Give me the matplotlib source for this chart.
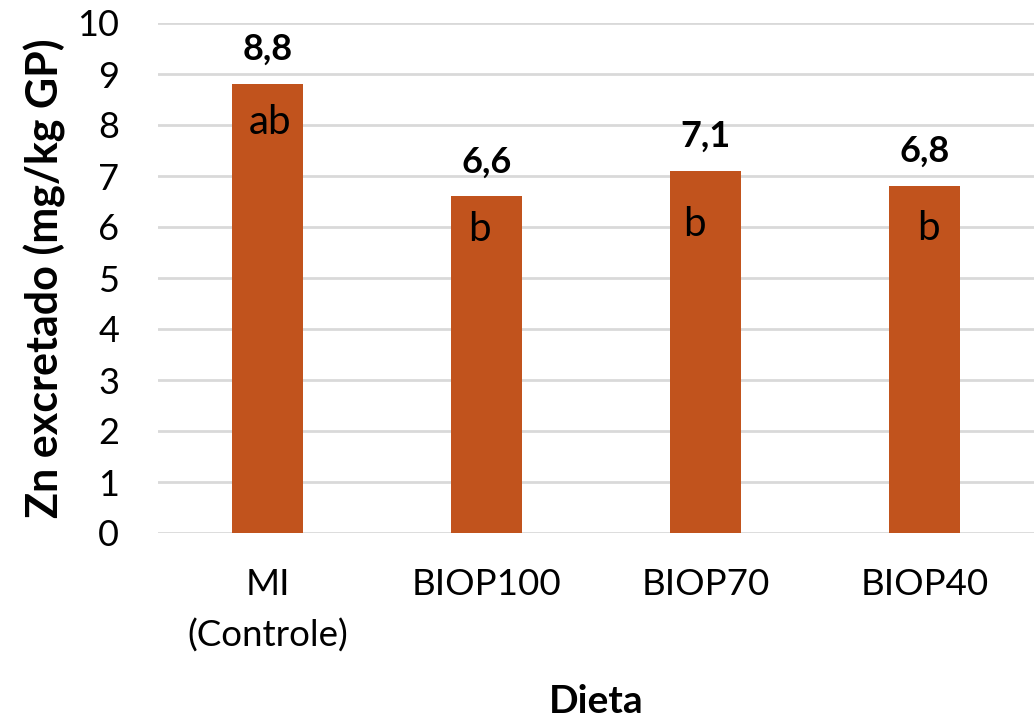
import matplotlib.pyplot as plt
import numpy as np

dietas = ['MI\n(Controle)', 'BIOP100', 'BIOP70', 'BIOP40']
zn_excretado = [8.8, 6.6, 7.1, 6.8]
letras = ['ab', 'b', 'b', 'b']
# letter placement inside each bar (x shift in bar units, y in data units)
letra_dx = [0.01, -0.03, -0.05, 0.02]
letra_y = [8.05, 5.95, 6.05, 5.98]

cor = '#C1531D'
plt.rcParams['font.family'] = ['Lato', 'DejaVu Sans']

fig = plt.figure(figsize=(10.36, 7.18), dpi=100)
ax = fig.add_axes([158/1036, 185/718, 876/1036, 510/718])

x = np.arange(len(dietas))
bars = ax.bar(x, zn_excretado, width=0.32, color=cor, zorder=3)

for i, v in enumerate(zn_excretado):
    ax.annotate(f'{v:.1f}'.replace('.', ','), (x[i], v), xytext=(0, 13),
                textcoords='offset points', ha='center', va='bottom',
                fontsize=26, fontweight='bold')
    ax.text(x[i] + letra_dx[i], letra_y[i], letras[i], ha='center', va='center',
            fontsize=29, zorder=4)

ax.set_xlim(-0.5, len(dietas) - 0.5)
ax.set_ylim(0, 10)
ax.set_yticks(range(0, 11))
ax.set_xticks(x)
ax.set_xticklabels(dietas, fontsize=26.5, linespacing=1.65)
ax.tick_params(axis='y', length=0, labelsize=26, pad=28)
ax.tick_params(axis='x', length=0, pad=25)
ax.grid(axis='y', color='#d9d9d9', linewidth=2, zorder=0)
for s in ax.spines.values():
    s.set_visible(False)

ax.set_ylabel('Zn excretado (mg/kg GP)', fontsize=31, fontweight='bold', labelpad=8)
ax.set_xlabel('Dieta', fontsize=28, fontweight='bold', labelpad=22)

fig.savefig('out.png', dpi=100)
